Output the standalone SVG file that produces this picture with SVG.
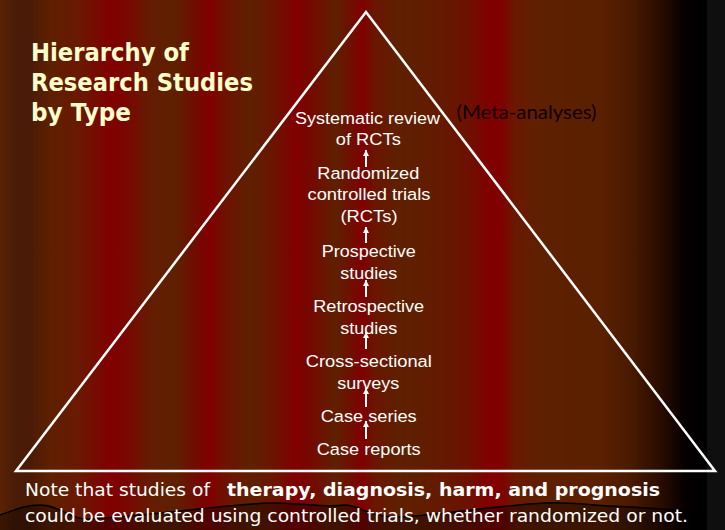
<svg xmlns="http://www.w3.org/2000/svg" width="725" height="530" viewBox="0 0 725 530">
  <defs>
    <linearGradient id="stripes" gradientUnits="userSpaceOnUse" x1="0" y1="0" x2="707" y2="0">
      <stop offset="0" stop-color="#5a2204"/>
      <stop offset="0.021" stop-color="#4a1c08"/>
      <stop offset="0.042" stop-color="#4a1a06"/>
      <stop offset="0.071" stop-color="#5e2000"/>
      <stop offset="0.113" stop-color="#6a1802"/>
      <stop offset="0.156" stop-color="#800000"/>
      <stop offset="0.177" stop-color="#7a0602"/>
      <stop offset="0.212" stop-color="#641c00"/>
      <stop offset="0.248" stop-color="#5e2000"/>
      <stop offset="0.276" stop-color="#700c00"/>
      <stop offset="0.297" stop-color="#800000"/>
      <stop offset="0.318" stop-color="#6e1200"/>
      <stop offset="0.354" stop-color="#5e2000"/>
      <stop offset="0.389" stop-color="#6c1400"/>
      <stop offset="0.417" stop-color="#800000"/>
      <stop offset="0.438" stop-color="#760800"/>
      <stop offset="0.474" stop-color="#5e2000"/>
      <stop offset="0.495" stop-color="#6e1000"/>
      <stop offset="0.512" stop-color="#800000"/>
      <stop offset="0.530" stop-color="#6a1600"/>
      <stop offset="0.566" stop-color="#5e2000"/>
      <stop offset="0.622" stop-color="#641a00"/>
      <stop offset="0.665" stop-color="#6e1000"/>
      <stop offset="0.690" stop-color="#800000"/>
      <stop offset="0.707" stop-color="#800000"/>
      <stop offset="0.728" stop-color="#6a1800"/>
      <stop offset="0.764" stop-color="#5e2000"/>
      <stop offset="0.849" stop-color="#5a2000"/>
      <stop offset="0.891" stop-color="#4a1a00"/>
      <stop offset="0.934" stop-color="#2a0c00"/>
      <stop offset="0.969" stop-color="#050000"/>
      <stop offset="1" stop-color="#000000"/>
    </linearGradient>
    <marker id="head" viewBox="0 0 8 8" refX="8" refY="4" markerUnits="userSpaceOnUse" markerWidth="6" markerHeight="6" orient="auto">
      <path d="M0,0 L8,4 L0,8 z" fill="#ffffff"/>
    </marker>
    <style>
      .lvl { font-family: "Liberation Sans", Arial, sans-serif; font-size: 16.8px; fill: #ffffff; text-anchor: middle; }
      .title { font-family: "DejaVu Sans", Verdana, sans-serif; font-weight: bold; font-size: 24.5px; fill: #ffffcc; }
      .note { font-family: "DejaVu Sans", Verdana, sans-serif; font-size: 18.5px; fill: #ffffff; }
      .noteb { font-family: "DejaVu Sans", Verdana, sans-serif; font-size: 18.5px; font-weight: bold; fill: #ffffff; }
      .conn line { stroke: #ffffff; stroke-width: 2; marker-end: url(#head); }
    </style>
  </defs>

  <!-- background -->
  <rect x="0" y="0" width="708" height="530" fill="url(#stripes)"/>
  <rect x="707" y="0" width="18" height="530" fill="#0f0f0f"/>
  <path d="M0,515 C15,510 25,505 40,505 C60,505 70,520 90,519 C150,516 220,505 270,503 C300,502 320,508 345,505 C360,505 370,518 400,517 C450,514 500,505 545,503 C570,502 590,505 610,506 C650,508 680,510 707,513 L707,530 L0,530 Z" fill="#000000" fill-opacity="0.35"/>
  <path d="M0,515 C15,510 25,505 40,505 C60,505 70,520 90,519 C150,516 220,505 270,503 C300,502 320,508 345,505 C360,505 370,518 400,517 C450,514 500,505 545,503 C570,502 590,505 610,506 C650,508 680,510 707,513" fill="none" stroke="#000000" stroke-width="1.5"/>

  <!-- pyramid -->
  <polygon id="pyramid" points="366,12 16,471 715,471" fill="none" stroke="#ffffff" stroke-width="2.5"/>

  <!-- title -->
  <g id="title">
    <text class="title" x="31" y="61" textLength="158" lengthAdjust="spacingAndGlyphs">Hierarchy of</text>
    <text class="title" x="31" y="91" textLength="222" lengthAdjust="spacingAndGlyphs">Research Studies</text>
    <text class="title" x="31" y="121" textLength="100" lengthAdjust="spacingAndGlyphs">by Type</text>
  </g>

  <!-- levels -->
  <g id="systematic-review">
    <text class="lvl" x="367.5" y="124" textLength="145" lengthAdjust="spacingAndGlyphs">Systematic review</text>
    <text class="lvl" x="368.3" y="145" textLength="65" lengthAdjust="spacingAndGlyphs">of RCTs</text>
  </g>
  <g id="meta-analyses">
    <text x="456.5" y="119" font-family="Lato, 'Open Sans', sans-serif" font-size="19" fill="#120000" textLength="140" lengthAdjust="spacingAndGlyphs">(Meta-analyses)</text>
  </g>
  <g id="rct">
    <text class="lvl" x="368.3" y="178.5" textLength="102" lengthAdjust="spacingAndGlyphs">Randomized</text>
    <text class="lvl" x="369" y="200" textLength="123" lengthAdjust="spacingAndGlyphs">controlled trials</text>
    <text class="lvl" x="369" y="221.5" textLength="57" lengthAdjust="spacingAndGlyphs">(RCTs)</text>
  </g>
  <g id="prospective">
    <text class="lvl" x="368.8" y="257" textLength="94" lengthAdjust="spacingAndGlyphs">Prospective</text>
    <text class="lvl" x="368.7" y="278.5" textLength="57" lengthAdjust="spacingAndGlyphs">studies</text>
  </g>
  <g id="retrospective">
    <text class="lvl" x="368.7" y="312" textLength="111" lengthAdjust="spacingAndGlyphs">Retrospective</text>
    <text class="lvl" x="368.7" y="333.5" textLength="57" lengthAdjust="spacingAndGlyphs">studies</text>
  </g>
  <g id="cross-sectional">
    <text class="lvl" x="368.8" y="367" textLength="126" lengthAdjust="spacingAndGlyphs">Cross-sectional</text>
    <text class="lvl" x="368.3" y="388.5" textLength="62" lengthAdjust="spacingAndGlyphs">surveys</text>
  </g>
  <g id="case-series">
    <text class="lvl" x="368.7" y="422" textLength="96" lengthAdjust="spacingAndGlyphs">Case series</text>
  </g>
  <g id="case-reports">
    <text class="lvl" x="368.7" y="454.5" textLength="104" lengthAdjust="spacingAndGlyphs">Case reports</text>
  </g>

  <!-- connectors -->
  <g id="connectors" class="conn">
    <line x1="366" y1="167" x2="366" y2="150"/>
    <line x1="366" y1="243" x2="366" y2="227"/>
    <line x1="366" y1="297" x2="366" y2="280"/>
    <line x1="366" y1="349" x2="366" y2="332"/>
    <line x1="366" y1="407" x2="366" y2="388"/>
    <line x1="366" y1="439" x2="366" y2="421"/>
  </g>

  <!-- note -->
  <g id="note">
    <text class="note" x="25" y="496" textLength="185" lengthAdjust="spacingAndGlyphs">Note that studies of</text>
    <text class="noteb" x="227" y="496" textLength="433" lengthAdjust="spacingAndGlyphs">therapy, diagnosis, harm, and prognosis</text>
    <text class="note" x="25" y="521.5" textLength="663" lengthAdjust="spacingAndGlyphs">could be evaluated using controlled trials, whether randomized or not.</text>
  </g>
</svg>
